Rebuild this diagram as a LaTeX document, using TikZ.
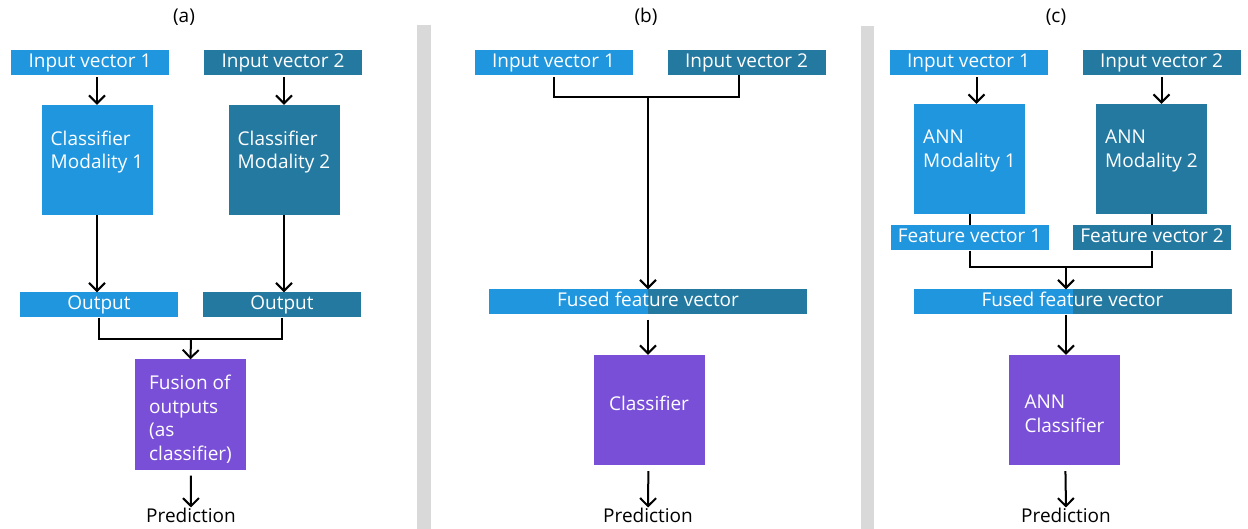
\documentclass[tikz,border=0pt]{standalone}
\usepackage{fontspec}
\setmainfont{Open Sans}
\usetikzlibrary{arrows.meta}
\definecolor{lightblue}{RGB}{31,150,222}
\definecolor{darkteal}{RGB}{36,121,160}
\definecolor{fusepurple}{RGB}{122,79,216}
\definecolor{bargray}{RGB}{217,217,217}

\begin{document}
\begin{tikzpicture}[x=1pt, y=-1pt, font=\fontsize{19}{23.5}\selectfont]
    % Define styles
    \tikzset{
        vector/.style={
            fill=lightblue,
            text=white,
            minimum width=158pt,
            minimum height=25pt,
            inner sep=0pt,
            text height=14pt,
            text depth=4pt
        },
        vectordark/.style={
            vector,
            fill=darkteal
        },
        fused/.style={
            vector,
            minimum width=318pt,
            path picture={
                \fill[darkteal] (path picture bounding box.north) rectangle (path picture bounding box.south east);
            }
        },
        modality/.style={
            fill=lightblue,
            text=white,
            minimum width=111pt,
            minimum height=110pt,
            align=left
        },
        modalitydark/.style={
            modality,
            fill=darkteal
        },
        fusion/.style={
            modality,
            fill=fusepurple
        },
        panel/.style={
            inner sep=0pt
        },
        arrow/.style={
            -{Straight Barb[length=8pt,width=16pt]},
            line width=2pt
        },
        link/.style={
            line width=2pt
        }
    }

    \useasboundingbox (0,0) rectangle (1248,529);

    % Separators
    \fill[bargray] (417,25) rectangle (431,529);
    \fill[bargray] (861,26) rectangle (874,529);

    % Panel (a): fusion of classifier outputs
    \node[panel] (tita) at (184,17) {(a)};
    \node[vector] (ain1) at (90,62.5) {Input vector 1};
    \node[vectordark] (ain2) at (283,62.5) {Input vector 2};
    \node[modality] (aclf1) at (97,160) {Classifier\\Modality 1\rule[-21pt]{0pt}{21pt}};
    \node[modalitydark] (aclf2) at (284,160) {Classifier\\Modality 2\rule[-21pt]{0pt}{21pt}};
    \node[vector] (aout1) at (99,305) {Output};
    \node[vectordark] (aout2) at (282,305) {Output};
    \node[fusion] (afuse) at (190.5,414.5) {\rule{0pt}{24.5pt}Fusion of\\outputs\\(as\\classifier)};
    \node[panel] (apred) at (191,515) {Prediction};
    \coordinate (ja) at (191,339);

    \draw[arrow, shorten <=2pt] (ain1.south -| aclf1) -- (aclf1.north);
    \draw[arrow, shorten <=2pt] (ain2.south -| aclf2) -- (aclf2.north);
    \draw[arrow] (aclf1) -- (aclf1 |- aout1.north);
    \draw[arrow] (aclf2) -- (aclf2 |- aout2.north);
    \draw[link] (aout1.south) |- (ja) -| (aout2.south);
    \draw[arrow] (ja) -- (afuse.north);
    \draw[arrow, shorten <=6pt] (afuse) -- (apred.north);

    % Panel (b): fusion of input vectors
    \node[panel] (titb) at (646,17) {(b)};
    \node[vector] (bin1) at (553.5,62.5) {Input vector 1};
    \node[vectordark] (bin2) at (746.5,62.5) {Input vector 2};
    \node[fused] (bfused) at (648,302) {Fused feature vector};
    \node[fusion, align=center] (bclf) at (649,410) {Classifier\rule[-14pt]{0pt}{14pt}};
    \node[panel] (bpred) at (648,515) {Prediction};
    \coordinate (jb) at (648,97);

    \draw[link, shorten <=2pt] (bin1.south) |- (jb) -| ([xshift=-8pt]bin2.south);
    \draw[arrow] (jb) -- (bfused.north);
    \draw[arrow, shorten <=5pt] (bfused) -- (bfused.south |- bclf.north);
    \draw[arrow, shorten <=6pt] (bclf) -- (bpred.north);

    % Panel (c): fusion of learned feature vectors
    \node[panel] (titc) at (1056,17) {(c)};
    \node[vector] (cin1) at (968.5,62.5) {Input vector 1};
    \node[vectordark] (cin2) at (1161.5,62.5) {Input vector 2};
    \node[modality] (cann1) at (969.5,159) {ANN\\Modality 1\rule[-21pt]{0pt}{21pt}};
    \node[modalitydark] (cann2) at (1151.5,159) {ANN\\Modality 2\rule[-21pt]{0pt}{21pt}};
    \node[vector] (cfv1) at (969.5,238) {Feature vector 1};
    \node[vectordark] (cfv2) at (1152,238) {Feature vector 2};
    \node[fused] (cfused) at (1072.5,302) {Fused feature vector};
    \node[fusion] (cclf) at (1064.5,410) {\rule{0pt}{21.5pt}ANN\\Classifier};
    \node[panel] (cpred) at (1066,515) {Prediction};
    \coordinate (jc) at (1066,267);

    \draw[arrow, shorten <=2pt] ([xshift=8pt]cin1.south) -- ([xshift=8pt]cin1.south |- cann1.north);
    \draw[arrow, shorten <=2pt] (cin2.south) -- (cin2.south |- cann2.north);
    \draw[link] (cann1) -- (cann1 |- cfv1.north);
    \draw[link] (cann2) -- (cann2 |- cfv2.north);
    \draw[link] (cfv1.south) |- (jc) -| (cfv2.south);
    \draw[arrow] (jc) -- (jc |- cfused.north);
    \draw[arrow] (jc |- cfused.south) -- (jc |- cclf.north);
    \draw[arrow, shorten <=6pt] (cclf) -- (cpred.north);

\end{tikzpicture}
\end{document}
